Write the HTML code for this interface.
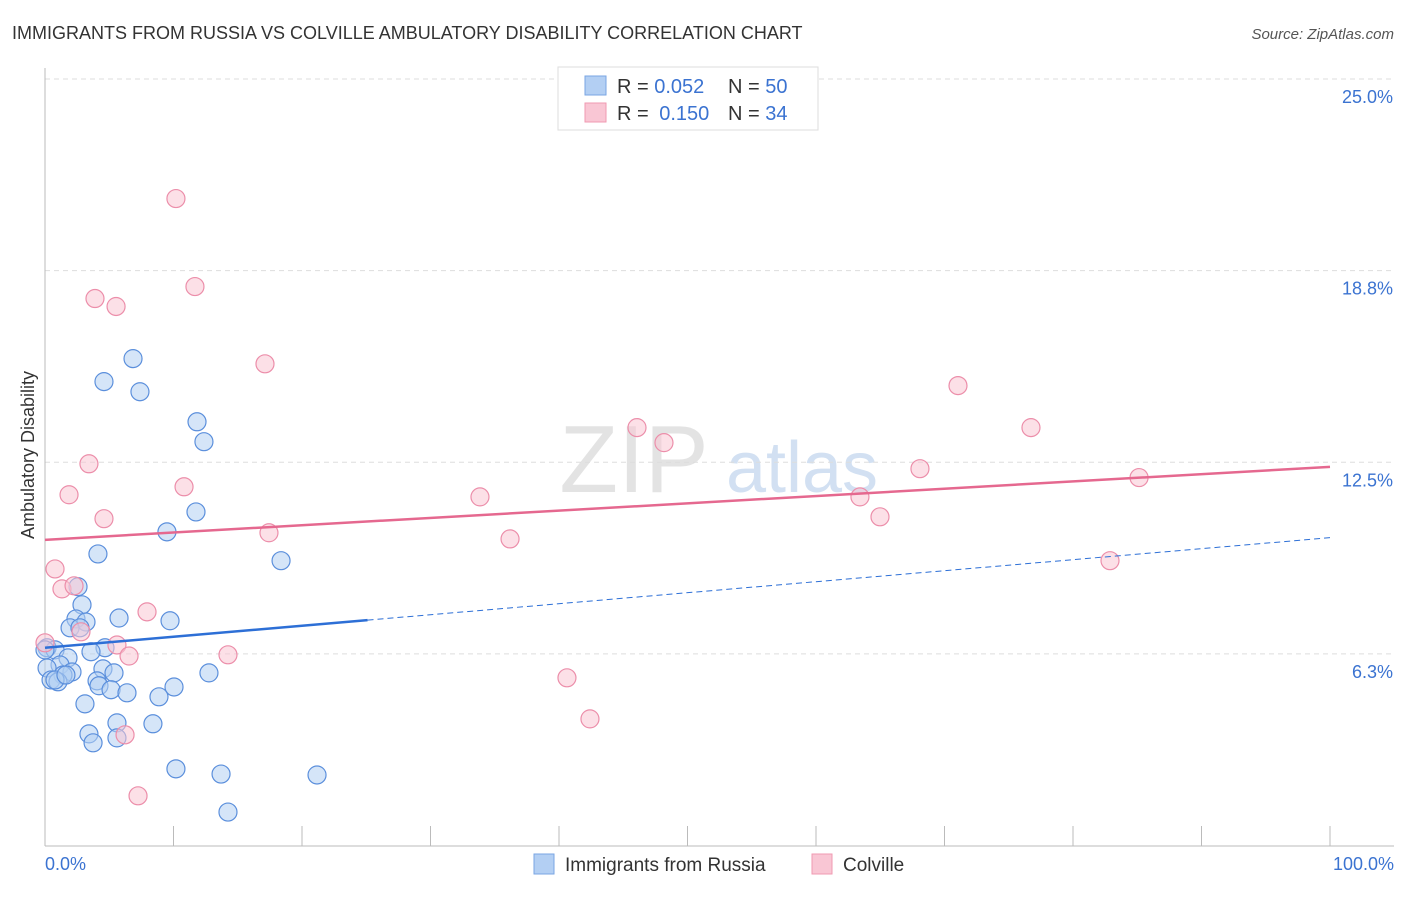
<!DOCTYPE html>
<html><head><meta charset="utf-8">
<style>
body{margin:0;background:#fff;font-family:"Liberation Sans",sans-serif;}
svg text{font-family:"Liberation Sans",sans-serif;}
</style></head>
<body>
<svg id="chart" width="1406" height="892" viewBox="0 0 1406 892" xmlns="http://www.w3.org/2000/svg">
<text x="12" y="39" font-size="18" fill="#333">IMMIGRANTS FROM RUSSIA VS COLVILLE AMBULATORY DISABILITY CORRELATION CHART</text>
<text x="1394" y="39" font-size="15" fill="#555" font-style="italic" text-anchor="end">Source: ZipAtlas.com</text>
<text x="34" y="455" font-size="18" fill="#333" text-anchor="middle" transform="rotate(-90 34 455)">Ambulatory Disability</text>
<g>
<text x="634" y="492" font-size="96" fill="#ddd" font-family="Liberation Serif" text-anchor="middle" opacity="0.8">ZIP</text>
<text x="802" y="492" font-size="72" fill="#c7d9ef" text-anchor="middle" opacity="0.8">atlas</text>
</g>
<g id="grid"></g>
<g id="axes"></g>
<g id="marks"></g>
<g>
<rect x="558" y="67" width="260" height="63" fill="#fff" stroke="#ddd"/>
<rect x="585" y="76" width="21" height="19" fill="#b3cff3" stroke="#7aa6e3"/>
<rect x="585" y="103" width="21" height="19" fill="#f9c6d4" stroke="#f09ab2"/>
<text x="617" y="93" font-size="20" fill="#333">R = <tspan fill="#3b73d1">0.052</tspan></text>
<text x="728" y="93" font-size="20" fill="#333">N = <tspan fill="#3b73d1">50</tspan></text>
<text x="617" y="120" font-size="20" fill="#333">R = <tspan fill="#3b73d1" dx="5">0.150</tspan></text>
<text x="728" y="120" font-size="20" fill="#333">N = <tspan fill="#3b73d1">34</tspan></text>
</g>
<g>
<rect x="534" y="854" width="20" height="20" fill="#b3cff3" stroke="#7aa6e3"/>
<text x="565" y="871" font-size="19" fill="#333">Immigrants from Russia</text>
<rect x="812" y="854" width="20" height="20" fill="#f9c6d4" stroke="#f09ab2"/>
<text x="843" y="871" font-size="19" fill="#333">Colville</text>
</g>
</svg>
<script>
const yTicks = [6.3, 12.5, 18.8, 25.0];
const yTickLabels = ["6.3%", "12.5%", "18.8%", "25.0%"];
const xTickLabels = ["0.0%", "100.0%"];
const russiaX = [6.85,4.59,7.39,11.83,12.37,11.75,9.49,4.12,18.37,2.57,2.88,5.76,9.73,2.41,3.19,1.95,2.72,0.16,0.78,4.67,3.58,1.79,1.17,0.16,4.51,5.37,2.10,1.40,4.05,12.76,0.47,1.01,4.20,5.14,6.38,10.04,8.87,3.11,5.60,8.40,3.42,5.60,3.74,10.19,13.70,21.17,14.24,0.78,0.0,1.63];
const russiaY = [15.88,15.13,14.80,13.82,13.17,10.88,10.23,9.51,9.29,8.44,7.85,7.42,7.33,7.39,7.29,7.10,7.10,6.45,6.38,6.45,6.32,6.12,5.89,5.79,5.76,5.63,5.66,5.56,5.37,5.63,5.40,5.34,5.21,5.08,4.98,5.17,4.85,4.62,4.00,3.97,3.64,3.51,3.35,2.50,2.33,2.30,1.09,5.40,6.38,5.56];
const colvilleX = [10.19,11.67,3.89,5.53,17.12,71.05,46.07,48.17,76.73,3.42,1.87,10.82,33.85,68.09,85.14,63.42,64.98,4.59,17.43,36.19,82.88,0.78,1.32,2.26,7.94,2.80,5.60,6.54,14.24,40.62,42.41,6.23,7.24,0.0];
const colvilleY = [21.10,18.23,17.84,17.58,15.71,15.0,13.63,13.14,13.63,12.45,11.44,11.70,11.37,12.29,12.0,11.37,10.72,10.66,10.2,10.0,9.29,9.02,8.37,8.47,7.62,6.97,6.54,6.18,6.22,5.47,4.13,3.61,1.62,6.61];
const russiaTrend = [6.45, 10.04];
const colvilleTrend = [9.97, 12.35];

const NS = "http://www.w3.org/2000/svg";
const X0 = 45, X1 = 1330, YB = 845.5, YT = 79;
function xs(v){ return X0 + v/100*(X1-X0); }
function ys(v){ return YB - v/25*(YB-YT); }
function mk(tag, attrs, parent){
  const e = document.createElementNS(NS, tag);
  for (const k in attrs) e.setAttribute(k, attrs[k]);
  parent.appendChild(e); return e;
}
const grid = document.getElementById('grid');
const axes = document.getElementById('axes');
const marks = document.getElementById('marks');
yTicks.forEach((t,i)=>{
  const g = mk('line',{x1:X0,x2:1394,y1:ys(t===6.3?6.25:t===18.8?18.75:t),y2:ys(t===6.3?6.25:t===18.8?18.75:t),stroke:'#ddd','stroke-dasharray':'5,4'},grid);
  
  
  const tx = mk('text',{x:1393,y:ys(t===6.3?6.25:t===18.8?18.75:t)+24,'font-size':18,fill:'#3b73d1','text-anchor':'end'},axes);
  tx.textContent = yTickLabels[i];
  
  
});
const ya = mk('line',{x1:X0,x2:X0,y1:68,y2:846,stroke:'#bbb'},axes);


const xa = mk('line',{x1:X0,x2:1394,y1:846,y2:846,stroke:'#bbb'},axes);


for(let i=1;i<=10;i++){
  const tk = mk('line',{x1:xs(i*10),x2:xs(i*10),y1:826,y2:846,stroke:'#bbb'},axes);
  
  
}
[[0,'start',45],[100,'end',1394]].forEach((d,i)=>{
  const t = mk('text',{x:d[2],y:870,'font-size':18,fill:'#3b73d1','text-anchor':d[1]},axes);
  t.textContent = xTickLabels[i];
  
  
});
function dots(X,Y,fill,stroke,name){
  X.forEach((x,i)=>{
    const c = mk('circle',{cx:xs(x),cy:ys(Y[i]),r:9,fill:fill,'fill-opacity':0.55,stroke:stroke,'stroke-width':1.2},marks);
    
    
  });
}
dots(russiaX,russiaY,'#b3cff3','#5b8fdc','russia-point');
dots(colvilleX,colvilleY,'#f9c6d4','#ec8eaa','colville-point');
const split = 25.1;
const rs = russiaTrend[0] + (russiaTrend[1]-russiaTrend[0])*split/100;
const l1 = mk('line',{x1:xs(0),y1:ys(russiaTrend[0]),x2:xs(split),y2:ys(rs),stroke:'#2d6fd6','stroke-width':2.5},marks);


const l2 = mk('line',{x1:xs(split),y1:ys(rs),x2:xs(100),y2:ys(russiaTrend[1]),stroke:'#2d6fd6','stroke-width':1,'stroke-dasharray':'6,4'},marks);


const l3 = mk('line',{x1:xs(0),y1:ys(colvilleTrend[0]),x2:xs(100),y2:ys(colvilleTrend[1]),stroke:'#e5688f','stroke-width':2.5},marks);


</script>
</body></html>
